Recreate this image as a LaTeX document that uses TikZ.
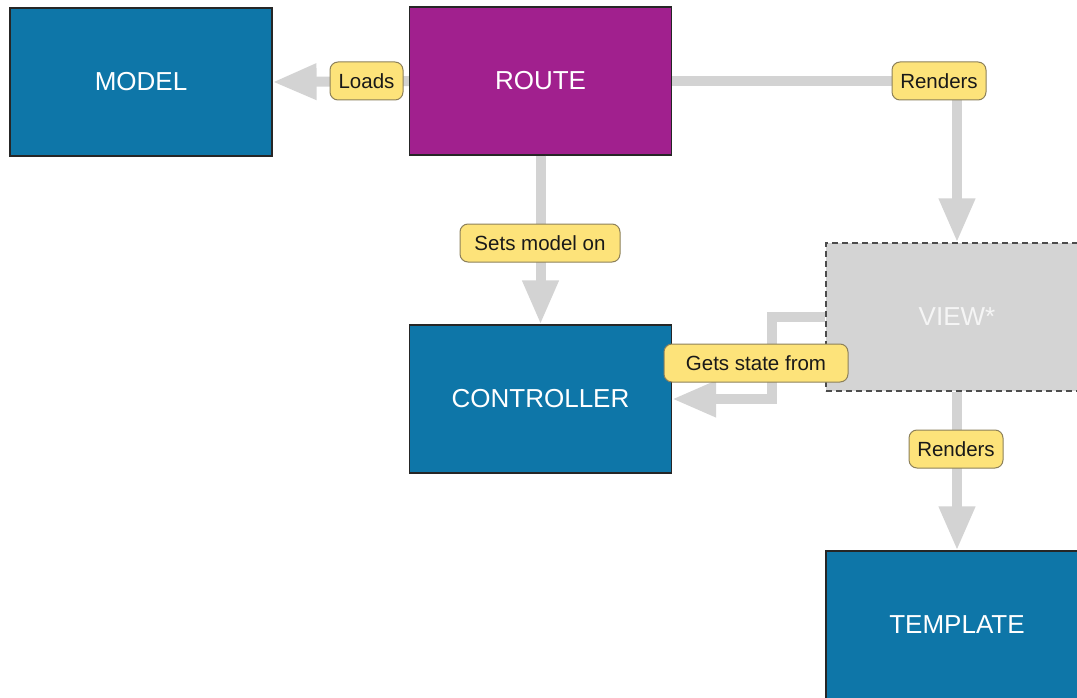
\documentclass[tikz,border=0pt]{standalone}
\usepackage{fontspec}
\setmainfont{Liberation Sans}
\usetikzlibrary{arrows.meta}
\definecolor{boxblue}{RGB}{14,118,168}
\definecolor{routepurple}{RGB}{161,32,142}
\definecolor{viewgray}{RGB}{212,212,212}
\definecolor{linkgray}{RGB}{211,211,211}
\definecolor{tagfill}{RGB}{253,227,122}
\definecolor{tagedge}{RGB}{140,128,90}
\tikzset{
  block/.style={draw=black!85, line width=1.2pt, minimum width=262pt, minimum height=148pt,
    inner sep=0pt, text=white, font=\fontsize{26}{30}\selectfont},
  link/.style={draw=linkgray, line width=10pt, -{Triangle[length=44pt,width=34pt]}},
  tag/.style={draw=tagedge, line width=1pt, fill=tagfill, rounded corners=8pt,
    minimum height=38pt, inner xsep=8pt, inner ysep=0pt, text=black!90,
    font=\fontsize{20.5}{24}\selectfont}
}
\begin{document}
\begin{tikzpicture}[x=1pt,y=-1pt]
  \useasboundingbox (0,0) rectangle (1077,698);
  \clip (0,0) rectangle (1077,698);

  % components
  \node[block, fill=boxblue] (model) at (141,82) {MODEL};
  \node[block, fill=routepurple] (route) at (540.5,81) {ROUTE};
  \node[block, fill=boxblue] (controller) at (540.5,399) {CONTROLLER};
  \node[block, fill=viewgray, draw=black!70, dashed, dash pattern=on 6pt off 4pt,
        text=white!96!black] (view) at (957,317) {VIEW*};
  \node[block, fill=boxblue] (template) at (957,625) {TEMPLATE};

  % relations
  \draw[link] (route.west) -- (model.east);
  \draw[link] (route.east) -| (view.north);
  \draw[link] (route.south) -- (controller.north);
  \draw[link] (view.west) -- ++(-53,0) |- (controller.east);
  \draw[link] (view.south) -- (template.north);

  % relation labels
  \node[tag, minimum width=73pt] (loads) at (366.5,81) {Loads};
  \node[tag, minimum width=94pt] (renders1) at (939,81) {Renders};
  \node[tag, minimum width=160pt] (setsmodel) at (540,243) {Sets model on};
  \node[tag, minimum width=184pt] (getsstate) at (756,363) {Gets state from};
  \node[tag, minimum width=94pt] (renders2) at (956,449) {Renders};
\end{tikzpicture}
\end{document}
